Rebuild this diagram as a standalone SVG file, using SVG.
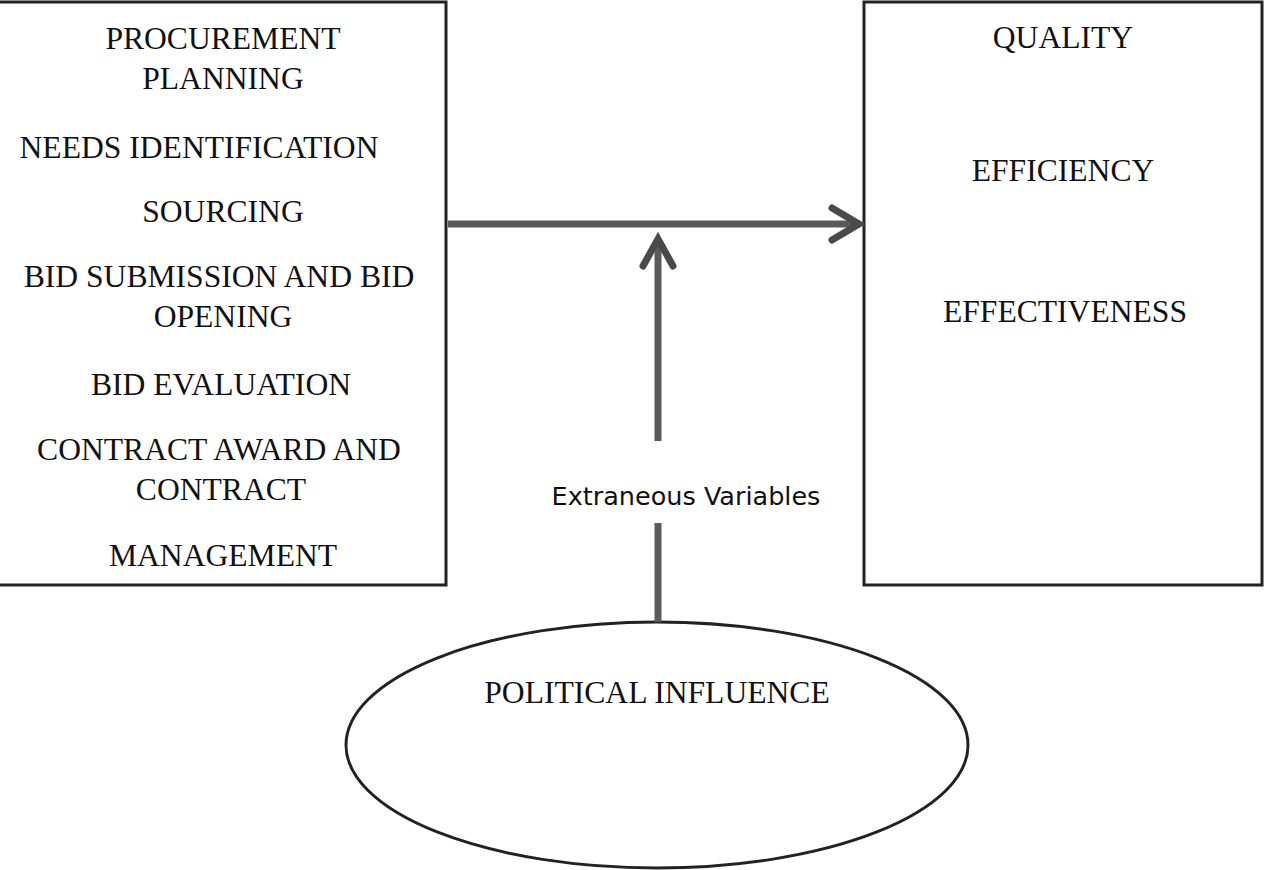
<svg xmlns="http://www.w3.org/2000/svg" width="1265" height="870" viewBox="0 0 1265 870">
<style>
.box{fill:#fff;stroke:#222;stroke-width:3}
.t{font-family:"Liberation Serif","Times New Roman",serif;font-size:31.6px;fill:#111;text-anchor:middle}
.s{font-family:"DejaVu Sans",Verdana,sans-serif;font-size:25.5px;fill:#111;text-anchor:middle}
.ln{fill:none;stroke:#5a5a5a;stroke-width:7}
.hd{fill:none;stroke:#4a4a4a;stroke-width:7;stroke-linecap:round;stroke-linejoin:miter}
.el{fill:#fff;stroke:#222;stroke-width:3}
</style>
<rect width="1265" height="870" fill="#fff"/>
<g id="left-box">
<rect class="box" x="-2" y="2" width="448" height="583"/>
<text class="t" x="223" y="49">PROCUREMENT</text>
<text class="t" x="223" y="89">PLANNING</text>
<text class="t" x="199" y="158">NEEDS IDENTIFICATION</text>
<text class="t" x="223" y="222">SOURCING</text>
<text class="t" x="219" y="287">BID SUBMISSION AND BID</text>
<text class="t" x="223" y="327">OPENING</text>
<text class="t" x="221" y="395">BID EVALUATION</text>
<text class="t" x="219" y="460">CONTRACT AWARD AND</text>
<text class="t" x="221" y="500">CONTRACT</text>
<text class="t" x="223" y="566">MANAGEMENT</text>
</g>
<g id="right-box">
<rect class="box" x="864" y="2" width="398" height="583"/>
<text class="t" x="1063" y="48">QUALITY</text>
<text class="t" x="1063" y="181">EFFICIENCY</text>
<text class="t" x="1065" y="322">EFFECTIVENESS</text>
</g>
<g id="political-influence">
<ellipse class="el" cx="657" cy="745" rx="311" ry="123"/>
<text class="t" x="657" y="703">POLITICAL INFLUENCE</text>
</g>
<g id="connectors">
<line class="ln" x1="448" y1="224" x2="858" y2="224"/>
<polyline class="hd" points="832,208 859,224 832,240"/>
<line class="ln" x1="658" y1="240" x2="658" y2="441"/>
<line class="ln" x1="658" y1="523" x2="658" y2="622"/>
<polyline class="hd" points="643,266 658,239 673,266"/>
<text class="s" x="686" y="505">Extraneous Variables</text>
</g>
</svg>
